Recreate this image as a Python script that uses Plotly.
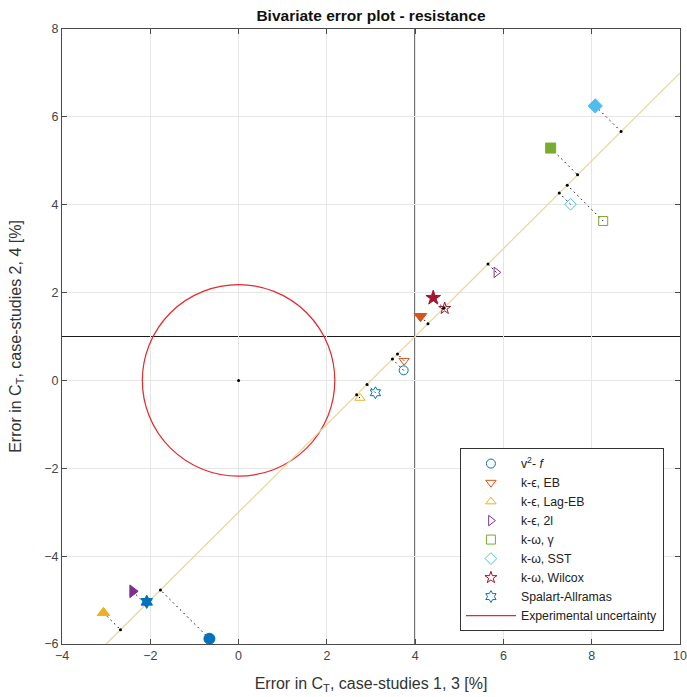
import numpy as np
import plotly.graph_objects as go

# Model names (legend order)
models = ["v<sup>2</sup>- <i>f</i>", "k-ϵ, EB", "k-ϵ, Lag-EB", "k-ϵ, 2l",
          "k-ω, γ", "k-ω, SST", "k-ω, Wilcox", "Spalart-Allramas"]

# Case-studies 1/2 errors (open markers) [%]
err_x_12 = [3.74, 3.75, 2.75, 5.84, 8.26, 7.52, 4.67, 3.10]
err_y_12 = [0.23, 0.45, -0.40, 2.46, 3.63, 4.01, 1.64, -0.28]

# Case-studies 3/4 errors (filled markers) [%]
err_x_34 = [-0.66, 4.12, -3.06, -2.40, 7.07, 8.08, 4.41, -2.08]
err_y_34 = [-5.88, 1.46, -5.29, -4.80, 5.29, 6.25, 1.88, -5.04]

colors = ["#0072BD", "#D95319", "#EDB120", "#7E2F8E",
          "#77AC30", "#4DBEEE", "#A2142F", "#0072BD"]
symbols = ["circle", "triangle-down", "triangle-up", "triangle-right",
           "square", "diamond", "star", "hexagram"]
filled_sizes = [11, 11, 11, 11, 10, 11, 11, 10]

# Reference crossing point and experimental uncertainty radius
ref_x, ref_y = 4.0, 1.0
unc_radius = 2.18

x_range = [-4, 10]
y_range = [-6, 8]
tick_vals_x = [-4, -2, 0, 2, 4, 6, 8, 10]
tick_vals_y = [-6, -4, -2, 0, 2, 4, 6, 8]

FONT = "Liberation Sans, Arial, Helvetica, sans-serif"


def project(px, py):
    """Orthogonal projection of a point onto the 45-degree line through the reference point."""
    c = ref_y - ref_x
    t = (px + py - c) / 2.0
    return t, t + c


fig = go.Figure()

# Dotted connectors from each point to its projection on the diagonal
for xs, ys in ((err_x_12, err_y_12), (err_x_34, err_y_34)):
    for px, py in zip(xs, ys):
        qx, qy = project(px, py)
        fig.add_trace(go.Scatter(x=[px, qx], y=[py, qy], mode="lines",
                                 line=dict(color="black", width=1, dash="1.5px,3.5px"),
                                 showlegend=False, hoverinfo="skip"))

# Projection dots (plus the origin)
proj = [project(px, py) for px, py in zip(err_x_12 + err_x_34, err_y_12 + err_y_34)]
fig.add_trace(go.Scatter(x=[p[0] for p in proj] + [0], y=[p[1] for p in proj] + [0],
                         mode="markers", marker=dict(color="black", size=3),
                         showlegend=False, hoverinfo="skip"))

# Filled markers (case-studies 3, 4)
for i in range(len(models)):
    fig.add_trace(go.Scatter(x=[err_x_34[i]], y=[err_y_34[i]], mode="markers",
                             marker=dict(symbol=symbols[i], color=colors[i],
                                         size=filled_sizes[i],
                                         line=dict(color=colors[i], width=1)),
                             showlegend=False))

# Open markers (case-studies 1, 2) – these carry the legend
for i in range(len(models)):
    fig.add_trace(go.Scatter(x=[err_x_12[i]], y=[err_y_12[i]], mode="markers",
                             name=models[i],
                             marker=dict(symbol=symbols[i] + "-open", color=colors[i],
                                         size=9, line=dict(color=colors[i], width=1))))

# Legend entry for the uncertainty circle
fig.add_trace(go.Scatter(x=[None], y=[None], mode="lines", name="Experimental uncertainty",
                         line=dict(color="#E8262B", width=1.2)))

shapes = [
    # uncertainty circle
    dict(type="circle", xref="x", yref="y", x0=-unc_radius, x1=unc_radius,
         y0=-unc_radius, y1=unc_radius, line=dict(color="#E8262B", width=1.2),
         layer="between"),
    # diagonal
    dict(type="line", xref="x", yref="y",
         x0=y_range[0] - (ref_y - ref_x), y0=y_range[0],
         x1=x_range[1], y1=x_range[1] + (ref_y - ref_x),
         line=dict(color="#EBD6A0", width=1.3), layer="between"),
    # cross lines
    dict(type="line", xref="x", yref="paper", x0=ref_x, x1=ref_x, y0=0, y1=1,
         line=dict(color="#1A1A1A", width=1.5), layer="between"),
    dict(type="line", xref="paper", yref="y", x0=0, x1=1, y0=ref_y, y1=ref_y,
         line=dict(color="#1A1A1A", width=1.2), layer="between"),
]

axis_common = dict(showgrid=True, gridcolor="#E6E6E6", gridwidth=1, zeroline=False,
                   showline=True, linecolor="#4A4A4A", linewidth=1, mirror="ticks",
                   ticks="inside", ticklen=5, tickcolor="#4A4A4A",
                   ticklabeloverflow="allow", automargin=False,
                   tickfont=dict(family=FONT, size=12.5, color="#444444"))

fig.update_layout(
    width=687, height=697,
    margin=dict(l=62, r=7, t=29, b=53),
    paper_bgcolor="white", plot_bgcolor="white",
    title=dict(text="<b>Bivariate error plot - resistance</b>", x=0.54, xanchor="center",
               y=0.978, yanchor="middle",
               font=dict(family=FONT, size=15.5, color="#111111")),
    xaxis=dict(range=x_range, tickvals=tick_vals_x,
               title=dict(text="Error in C<sub>T</sub>, case-studies 1, 3 [%]", standoff=15,
                          font=dict(family=FONT, size=16, color="#333333")),
               **axis_common),
    yaxis=dict(range=y_range, tickvals=tick_vals_y,
               title=dict(text="Error in C<sub>T</sub>, case-studies 2, 4 [%]", standoff=18,
                          font=dict(family=FONT, size=16, color="#333333")),
               **axis_common),
    shapes=shapes,
    legend=dict(x=0.974, xanchor="right", y=0.021, yanchor="bottom",
                bgcolor="white", bordercolor="#333333", borderwidth=1,
                font=dict(family=FONT, size=12.3, color="#222222"),
                tracegroupgap=0, itemwidth=50),
    showlegend=True,
)

fig.write_html("out.html")
